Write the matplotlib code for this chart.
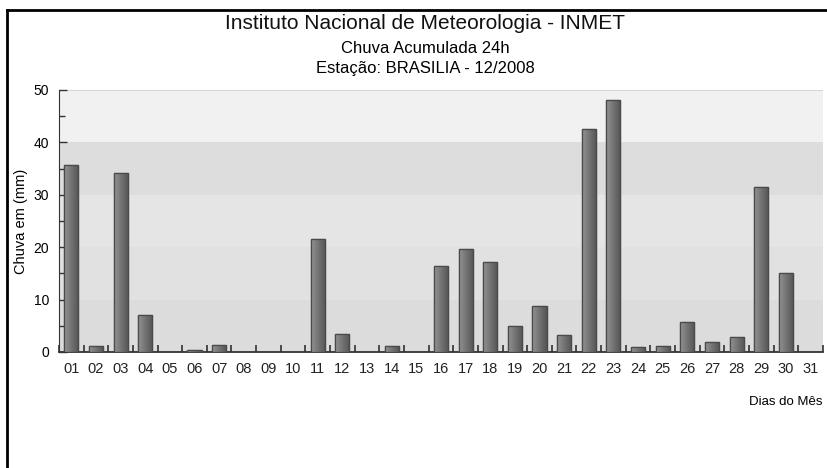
import matplotlib

matplotlib.use("Agg")
import matplotlib.pyplot as plt
import numpy as np
from matplotlib.lines import Line2D

plt.rcParams["font.family"] = ["Liberation Sans", "DejaVu Sans"]

# data
days = ["01", "02", "03", "04", "05", "06", "07", "08", "09", "10",
        "11", "12", "13", "14", "15", "16", "17", "18", "19", "20",
        "21", "22", "23", "24", "25", "26", "27", "28", "29", "30", "31"]
chuva_mm = [35.7, 1.1, 34.2, 7.1, 0.0, 0.3, 1.4, 0.0, 0.0, 0.0,
            21.6, 3.4, 0.0, 1.1, 0.0, 16.5, 19.6, 17.2, 5.0, 8.8,
            3.2, 42.6, 48.0, 0.9, 1.1, 5.8, 1.9, 2.9, 31.4, 15.0, 0.0]
band_edges = [0, 10, 20, 30, 40, 50]
band_colors = ["#dcdcdc", "#e1e1e1", "#e5e5e5", "#dddddd", "#f1f1f1"]

fig = plt.figure(figsize=(8.27, 4.68), dpi=100)
ax = fig.add_axes([0.0713, 0.2479, 0.9237, 0.5598])

# background bands
for lo, hi, c in zip(band_edges[:-1], band_edges[1:], band_colors):
    ax.axhspan(lo, hi, color=c, lw=0, zorder=0)
ax.axhline(50, color="#d0d0d0", lw=1.2, zorder=1)

x = np.arange(1, len(days) + 1)
bars = ax.bar(x, chuva_mm, width=0.57, color="#858585",
              edgecolor="#4a4a4a", linewidth=0.9, zorder=3)

# horizontal shading inside each bar
grad = np.linspace(0.0, 1.0, 32).reshape(1, -1)
for b in bars:
    h = b.get_height()
    if h <= 0:
        continue
    x0 = b.get_x()
    im = ax.imshow(grad, extent=(x0, x0 + b.get_width(), 0, h),
                   cmap="gray_r", vmin=-1.8, vmax=2.4, aspect="auto",
                   zorder=3.5, interpolation="bilinear")
    im.set_clip_path(b)
    ax.add_patch(plt.Rectangle((x0, 0), b.get_width(), h, fill=False,
                               edgecolor="#4a4a4a", lw=0.9, zorder=4))

ax.set_xlim(0.5, len(days) + 0.5)
ax.set_ylim(0, 50)
ax.set_xticks(x)
ax.set_xticklabels(days, fontsize=10.5)
ax.set_xticks(np.arange(0.5, len(days) + 1, 1.0), minor=True)
ax.tick_params(axis="x", which="major", length=0, pad=7, colors="#222222")
ax.tick_params(axis="x", which="minor", direction="in", length=5,
               width=1.1, color="#222222")
ax.set_yticks(band_edges)
ax.set_yticks(np.arange(5, 50, 10), minor=True)
ax.tick_params(axis="y", which="major", direction="in", length=6,
               width=1.0, labelsize=10, color="#333333", pad=7)
ax.tick_params(axis="y", which="minor", direction="in", length=4,
               width=1.0, color="#333333")

for side in ["top", "right"]:
    ax.spines[side].set_visible(False)
ax.spines["left"].set_color("#333333")
ax.spines["bottom"].set_color("#333333")
ax.spines["bottom"].set_linewidth(1.3)

ax.set_ylabel("Chuva em (mm)", fontsize=10.5)
ax.yaxis.set_label_coords(-0.040, 0.5)
fig.text(0.994, 0.142, "Dias do Mês", ha="right", va="center", fontsize=9.5)

fig.text(0.514, 0.938, "Instituto Nacional de Meteorologia - INMET",
         ha="center", va="baseline", fontsize=15, color="#111111")
fig.text(0.514, 0.887, "Chuva Acumulada 24h", ha="center", va="baseline",
         fontsize=12)
fig.text(0.514, 0.844, "Estação: BRASILIA - 12/2008", ha="center",
         va="baseline", fontsize=12)

# frame lines (top and left) of the original screenshot
fig.add_artist(Line2D([0.0085, 0.0085], [0.0, 0.979], color="black", lw=2.0))
fig.add_artist(Line2D([0.0085, 1.0], [0.979, 0.979], color="black", lw=2.0))

fig.savefig("out.png", dpi=100, facecolor="white")
